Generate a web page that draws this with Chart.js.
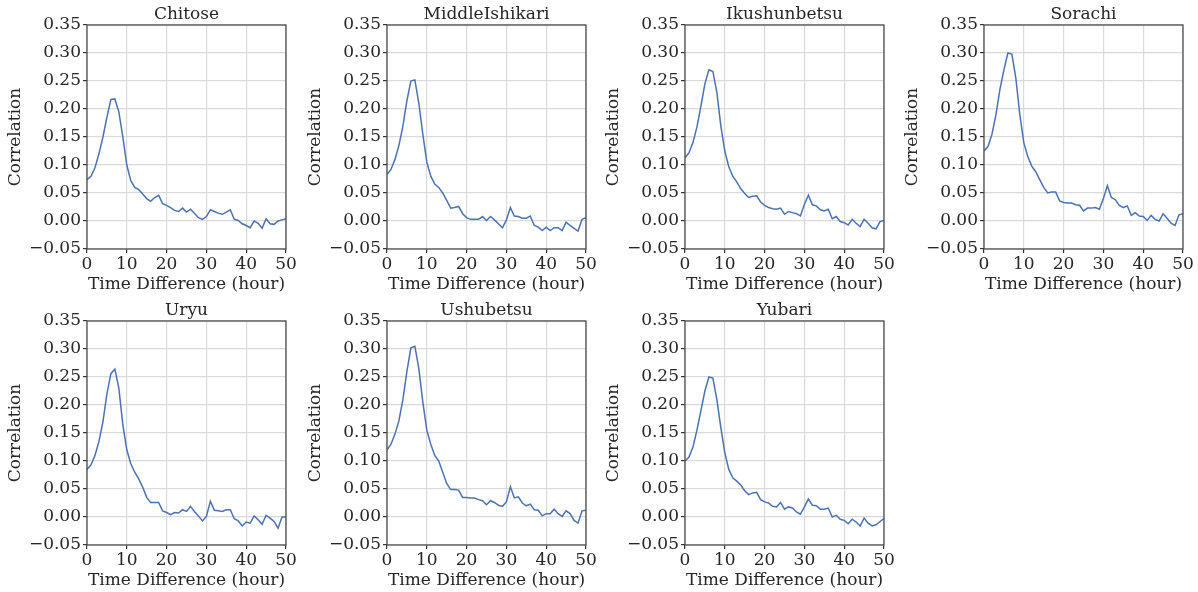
<!DOCTYPE html>
<html>
<head>
<meta charset="utf-8">
<script src="https://cdn.jsdelivr.net/npm/chart.js@4"></script>
<style>
  html, body { margin:0; padding:0; background:#ffffff; width:1198px; height:592px; overflow:hidden; }
  canvas { position:absolute; }
</style>
</head>
<body>
<script>
// ---- data ----
const hours = Array.from({length: 51}, (_, i) => i);
const xTicks = [0, 10, 20, 30, 40, 50];
const yTicks = [-0.05, 0.00, 0.05, 0.10, 0.15, 0.20, 0.25, 0.30, 0.35];
const stations = ["Chitose", "MiddleIshikari", "Ikushunbetsu", "Sorachi", "Uryu", "Ushubetsu", "Yubari"];

const chitose = [0.074,0.080,0.095,0.120,0.150,0.185,0.217,0.218,0.195,0.150,0.100,0.072,0.060,0.056,0.048,0.040,0.035,0.042,0.046,0.031,0.028,0.024,0.019,0.017,0.023,0.016,0.021,0.014,0.006,0.003,0.008,0.020,0.017,0.014,0.012,0.016,0.020,0.003,0.001,-0.005,-0.008,-0.012,0.000,-0.004,-0.013,0.004,-0.005,-0.006,0.000,0.002,0.004];
const middleIshikari = [0.083,0.092,0.110,0.135,0.170,0.215,0.250,0.252,0.210,0.155,0.105,0.080,0.066,0.060,0.050,0.037,0.023,0.024,0.026,0.013,0.006,0.003,0.003,0.003,0.008,0.001,0.008,0.002,-0.005,-0.012,0.002,0.024,0.009,0.008,0.005,0.005,0.009,-0.008,-0.011,-0.017,-0.011,-0.017,-0.012,-0.012,-0.017,-0.002,-0.008,-0.013,-0.018,0.003,0.006];
const ikushunbetsu = [0.113,0.122,0.140,0.168,0.205,0.245,0.270,0.267,0.230,0.170,0.125,0.097,0.080,0.070,0.058,0.049,0.042,0.044,0.045,0.034,0.028,0.024,0.022,0.021,0.023,0.012,0.017,0.015,0.013,0.009,0.030,0.046,0.029,0.027,0.020,0.018,0.021,0.004,0.008,-0.001,-0.003,-0.007,0.003,-0.004,-0.010,0.003,-0.004,-0.012,-0.014,-0.001,0.001];
const sorachi = [0.125,0.133,0.155,0.190,0.235,0.270,0.300,0.298,0.255,0.190,0.140,0.115,0.098,0.088,0.074,0.060,0.050,0.052,0.052,0.036,0.033,0.032,0.032,0.029,0.028,0.018,0.023,0.023,0.024,0.021,0.040,0.063,0.042,0.038,0.028,0.024,0.027,0.010,0.015,0.009,0.008,0.001,0.010,0.003,0.000,0.013,0.005,-0.004,-0.008,0.011,0.013];
const uryu = [0.085,0.093,0.110,0.135,0.170,0.220,0.256,0.264,0.230,0.165,0.120,0.095,0.080,0.068,0.053,0.035,0.026,0.026,0.026,0.011,0.008,0.004,0.008,0.007,0.013,0.010,0.019,0.010,0.002,-0.007,0.001,0.028,0.012,0.011,0.010,0.013,0.013,-0.003,-0.007,-0.016,-0.009,-0.011,0.002,-0.005,-0.013,0.003,-0.002,-0.008,-0.020,0.000,0.000];
const ushubetsu = [0.120,0.130,0.148,0.172,0.210,0.260,0.302,0.305,0.265,0.205,0.155,0.130,0.110,0.100,0.080,0.060,0.049,0.049,0.048,0.035,0.035,0.034,0.034,0.031,0.029,0.022,0.029,0.026,0.021,0.019,0.027,0.054,0.034,0.036,0.025,0.020,0.023,0.013,0.012,0.002,0.006,0.006,0.014,0.006,0.001,0.011,0.006,-0.006,-0.011,0.011,0.012];
const yubari = [0.100,0.107,0.125,0.155,0.190,0.225,0.250,0.248,0.210,0.160,0.115,0.085,0.070,0.064,0.057,0.047,0.040,0.043,0.044,0.031,0.027,0.025,0.019,0.018,0.026,0.014,0.018,0.016,0.009,0.005,0.018,0.032,0.021,0.020,0.014,0.014,0.016,0.000,0.003,-0.004,-0.006,-0.012,-0.004,-0.009,-0.016,-0.002,-0.011,-0.016,-0.014,-0.008,-0.003];
const seriesList = [chitose, middleIshikari, ikushunbetsu, sorachi, uryu, ushubetsu, yubari];

// ---- layout ----
const plotLefts = [87, 387, 685, 984];
const plotTops = [25, 321];
const plotW = 199, plotH = 224;
const yAxisW = 82, titleH = 25, xAxisH = 46, rightPad = 14;

const FONT = "'DejaVu Serif', serif";
const TXT = '#262626';

const spinePlugin = {
  id: 'spines',
  afterDraw(chart) {
    const {ctx, chartArea: a} = chart;
    ctx.save();
    ctx.strokeStyle = '#4a4a4a';
    ctx.lineWidth = 1.25;
    ctx.strokeRect(a.left, a.top, a.right - a.left, a.bottom - a.top);
    ctx.restore();
  }
};

function fmtY(v) {
  if (Math.abs(v) < 1e-9) v = 0;
  return v.toFixed(2).replace('-', '\u2212');
}

seriesList.forEach((vals, i) => {
  const row = Math.floor(i / 4), col = i % 4;
  const cv = document.createElement('canvas');
  const w = yAxisW + plotW + rightPad, h = titleH + plotH + xAxisH;
  cv.width = w; cv.height = h;
  cv.style.width = w + 'px'; cv.style.height = h + 'px';
  cv.style.left = (plotLefts[col] - yAxisW) + 'px';
  cv.style.top = (plotTops[row] - titleH) + 'px';
  document.body.appendChild(cv);

  new Chart(cv, {
    type: 'line',
    data: {
      datasets: [{
        data: hours.map((x, k) => ({x: x, y: vals[k]})),
        borderColor: '#4c72b0',
        borderWidth: 1.5,
        pointRadius: 0,
        tension: 0,
        fill: false
      }]
    },
    options: {
      responsive: false,
      animation: false,
      devicePixelRatio: 1,
      layout: { padding: { left: 0, top: 0, right: rightPad, bottom: 0 } },
      plugins: {
        legend: { display: false },
        tooltip: { enabled: false },
        title: {
          display: true,
          fullSize: false,
          text: stations[i],
          color: TXT,
          font: { family: FONT, size: 17, weight: 'normal', lineHeight: 1.2 },
          padding: { top: 4, bottom: 0.6 }
        }
      },
      scales: {
        x: {
          type: 'linear',
          min: 0, max: 50,
          afterBuildTicks: s => { s.ticks = xTicks.map(v => ({value: v})); },
          afterFit: s => { s.height = xAxisH; s.paddingLeft = 0; s.paddingRight = 0; },
          grid: { color: '#dadada', lineWidth: 1.2, tickLength: 4, tickColor: '#333333', tickWidth: 1.2 },
          border: { display: false },
          ticks: { color: TXT, font: { family: FONT, size: 17 }, padding: 1, maxRotation: 0, autoSkip: false },
          title: { display: true, text: 'Time Difference (hour)', color: TXT, font: { family: FONT, size: 17, lineHeight: 1.2 }, padding: 0 }
        },
        y: {
          type: 'linear',
          min: -0.05, max: 0.35,
          afterBuildTicks: s => { s.ticks = yTicks.map(v => ({value: v})); },
          afterFit: s => { s.width = yAxisW; s.paddingTop = 0; s.paddingBottom = 0; },
          grid: { color: '#dadada', lineWidth: 1.2, tickLength: 4, tickColor: '#333333', tickWidth: 1.2 },
          border: { display: false },
          ticks: { color: TXT, font: { family: FONT, size: 17 }, padding: 2, autoSkip: false, callback: v => fmtY(v) },
          title: { display: true, text: 'Correlation', color: TXT, font: { family: FONT, size: 17, lineHeight: 1.2 }, padding: 0 }
        }
      }
    },
    plugins: [spinePlugin]
  });
});
</script>
</body>
</html>
